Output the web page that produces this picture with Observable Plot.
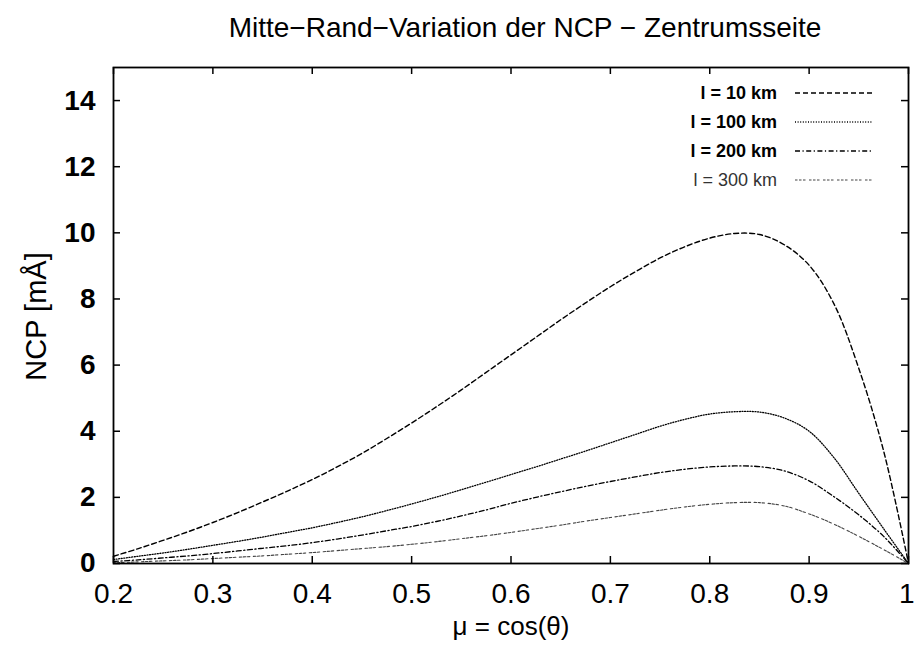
<!DOCTYPE html>
<html><head><meta charset="utf-8">
<script src="https://cdn.jsdelivr.net/npm/d3@7"></script>
<script src="https://cdn.jsdelivr.net/npm/@observablehq/plot@0.6"></script>
<style>
body{margin:0;background:#fff;}
#chart{width:914px;height:655px;}
</style></head><body>
<div id="chart"></div>
<script>
const title = "Mitte\u2212Rand\u2212Variation der NCP \u2212 Zentrumsseite";
const xLabel = "\u03bc = cos(\u03b8)";
const yLabel = "NCP [m\u00c5]";
const seriesNames = ["l = 10 km", "l = 100 km", "l = 200 km", "l = 300 km"];
const xTicks = [0.2, 0.3, 0.4, 0.5, 0.6, 0.7, 0.8, 0.9, 1.0];
const yTicks = [0, 2, 4, 6, 8, 10, 12, 14];
const mu = [0.2, 0.225, 0.25, 0.275, 0.3, 0.325, 0.35, 0.375, 0.4, 0.425, 0.45, 0.475, 0.5, 0.525, 0.55, 0.575,
            0.6, 0.625, 0.65, 0.675, 0.7, 0.725, 0.75, 0.775, 0.8, 0.825, 0.85, 0.875, 0.9, 0.925, 0.95, 0.975, 1.0];
const ncp10  = [0.22, 0.45, 0.70, 0.96, 1.24, 1.54, 1.86, 2.19, 2.54, 2.92, 3.33, 3.78, 4.25, 4.74, 5.25, 5.78,
                6.31, 6.84, 7.37, 7.88, 8.37, 8.82, 9.24, 9.58, 9.84, 9.98, 9.95, 9.64, 9.02, 7.85, 5.9, 3.4, 0.0];
const ncp100 = [0.12, 0.22, 0.32, 0.43, 0.55, 0.67, 0.80, 0.94, 1.08, 1.24, 1.41, 1.60, 1.80, 2.01, 2.23, 2.46,
                2.69, 2.92, 3.16, 3.40, 3.65, 3.90, 4.15, 4.36, 4.52, 4.59, 4.58, 4.40, 4.00, 3.20, 2.12, 1.05, 0.0];
const ncp200 = [0.06, 0.11, 0.17, 0.23, 0.30, 0.38, 0.46, 0.54, 0.63, 0.74, 0.86, 0.99, 1.12, 1.27, 1.44, 1.62,
                1.82, 2.00, 2.17, 2.33, 2.48, 2.62, 2.75, 2.85, 2.92, 2.95, 2.93, 2.80, 2.50, 2.02, 1.47, 0.82, 0.0];
const ncp300 = [0.02, 0.05, 0.08, 0.11, 0.15, 0.19, 0.23, 0.28, 0.33, 0.39, 0.45, 0.51, 0.58, 0.66, 0.75, 0.84,
                0.94, 1.05, 1.16, 1.28, 1.39, 1.50, 1.61, 1.71, 1.79, 1.84, 1.84, 1.74, 1.50, 1.19, 0.82, 0.42, 0.0];

const values = [ncp10, ncp100, ncp200, ncp300];
const styles = {
  "l = 10 km":  {dash: "5,3",   width: 1.4, color: "#000"},
  "l = 100 km": {dash: "1,1.6", width: 1.3, color: "#000"},
  "l = 200 km": {dash: "5,2.5,1.2,2.5", width: 1.3, color: "#000"},
  "l = 300 km": {dash: "2.5,1.5,2.5,1.5,2.5,3.5", width: 1.1, color: "#444"}
};
const data = seriesNames.flatMap((s, i) => mu.map((m, j) => ({mu: m, v: values[i][j], s})));

const W = 914, H = 655, mL = 113, mR = 6, mT = 67, mB = 92;
const innerW = W - mL - mR, innerH = H - mT - mB;
const tickLen = 7;
const font = "'Liberation Sans', Arial, Helvetica, sans-serif";
const xFmt = d => d === 1 ? "1" : d3.format(".1f")(d);

const plot = Plot.plot({
  width: W, height: H,
  marginLeft: mL, marginRight: mR, marginTop: mT, marginBottom: mB,
  style: {fontFamily: font, fontSize: "28px", color: "#000", background: "#fff", overflow: "visible"},
  x: {domain: [0.2, 1.0]},
  y: {domain: [0, 15]},
  marks: [
    ...seriesNames.map(s => Plot.line(data.filter(d => d.s === s), {
      x: "mu", y: "v", curve: "catmull-rom",
      stroke: styles[s].color, strokeWidth: styles[s].width, strokeDasharray: styles[s].dash
    })),
    // inward ticks on all four sides
    Plot.tickX(xTicks, {x: d => d, insetTop: innerH - tickLen, stroke: "#000", strokeWidth: 1.5}),
    Plot.tickX(xTicks, {x: d => d, insetBottom: innerH - tickLen, stroke: "#000", strokeWidth: 1.5}),
    Plot.tickY(yTicks, {y: d => d, insetRight: innerW - tickLen, stroke: "#000", strokeWidth: 1.5}),
    Plot.tickY(yTicks, {y: d => d, insetLeft: innerW - tickLen, stroke: "#000", strokeWidth: 1.5}),
    Plot.frame({stroke: "#000", strokeWidth: 1.8}),
    Plot.axisX({ticks: xTicks.filter(d => d < 1), tickSize: 0, tickPadding: 20, label: null, fontSize: 28,
      tickFormat: xFmt}),
    // last x tick label, kept inside the picture's right edge
    Plot.text(xTicks.filter(d => d === 1), {x: d => d, text: xFmt, frameAnchor: "bottom", lineAnchor: "top",
      textAnchor: "end", dx: 6, dy: 20, fontSize: 28, fill: "#000"}),
    Plot.axisY({ticks: yTicks, tickSize: 0, tickPadding: 18, label: null, fontSize: 28, fontWeight: "bold",
      tickFormat: d => String(d)}),
    Plot.text([title], {text: d => d, frameAnchor: "top", dx: 14, dy: -50, fontSize: 28, fill: "#000"}),
    Plot.text([xLabel], {text: d => d, frameAnchor: "bottom", dy: 71, fontSize: 26, fill: "#000"}),
    Plot.text([yLabel], {text: d => d, frameAnchor: "left", textAnchor: "middle", dx: -77, dy: 1, rotate: -90, fontSize: 29, fill: "#000"})
  ]
});
document.getElementById("chart").appendChild(plot);

// legend inside the plot area (top right), as in the reference
const svg = d3.select(plot);
const leg = svg.append("g").attr("font-family", font);
seriesNames.forEach((s, i) => {
  const y = 93 + i * 29;
  leg.append("text").attr("x", 777).attr("y", y).attr("dy", "0.35em")
    .attr("text-anchor", "end").attr("font-size", 18)
    .attr("font-weight", i === 3 ? "normal" : "bold")
    .attr("fill", i === 3 ? "#333" : "#000").text(s);
  leg.append("line").attr("x1", 795).attr("x2", 873).attr("y1", y).attr("y2", y)
    .attr("stroke", styles[s].color).attr("stroke-width", styles[s].width)
    .attr("stroke-dasharray", styles[s].dash);
});
</script>
</body></html>
